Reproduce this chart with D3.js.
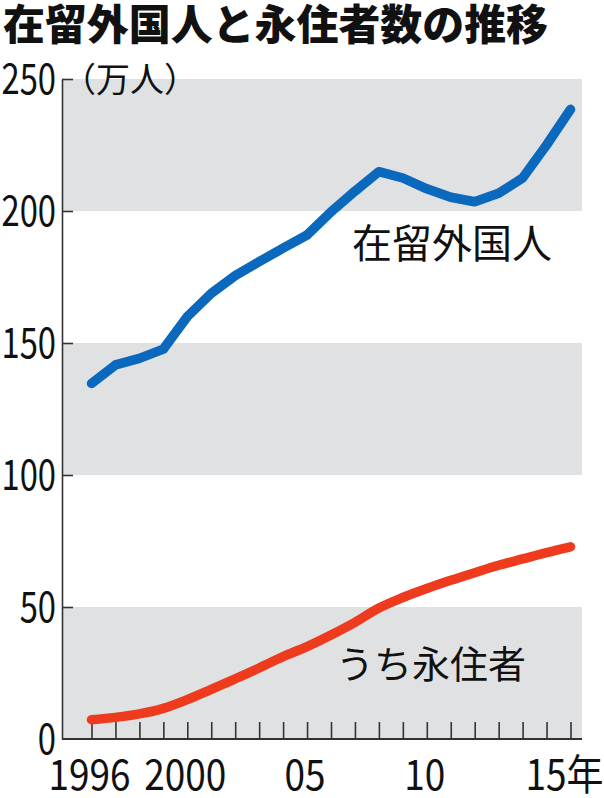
<!DOCTYPE html>
<html>
<head>
<meta charset="utf-8">
<script src="https://cdn.jsdelivr.net/npm/d3@7"></script>
<style>
  html, body { margin: 0; padding: 0; background: #fff; }
  svg { display: block; }
  text { font-family: "Noto Sans CJK JP", "Noto Sans", sans-serif; fill: #111; }
</style>
</head>
<body>
<svg id="chart" width="604" height="798"></svg>
<script>
// ---- data ----
const years = [1996,1997,1998,1999,2000,2001,2002,2003,2004,2005,2006,2007,2008,2009,2010,2011,2012,2013,2014,2015,2016];
const foreigners = [134.7,141.7,144.2,147.7,160.0,168.8,175.5,180.8,185.9,190.9,199.7,207.5,214.9,212.5,208.4,205.2,203.5,206.7,212.5,225.0,238.5];
const permanent  = [7.3,8.2,9.5,11.6,14.9,18.8,22.8,26.9,31.2,35.0,39.4,44.2,49.6,53.6,57.0,60.1,63.0,65.8,68.2,70.6,72.8];
const yTicks = [0,50,100,150,200,250];
const bandRanges = [[200,250],[100,150],[0,50]];
const xLabelYears = [1996,2000,2005,2010,2015];
const xLabelTexts = ["1996","2000","05","10","15年"];
const titleText = "在留外国人と永住者数の推移";
const unitText = "（万人）";
const seriesNames = ["在留外国人","うち永住者"];

// ---- layout ----
const svg = d3.select("#chart");
const axisX0 = 62, axisX1 = 582, axisY0 = 739, axisY1 = 79;
const x = d3.scaleLinear().domain([1996,2016]).range([91.5,570.5]);
const y = d3.scaleLinear().domain([0,250]).range([axisY0, axisY1]);

// bands
svg.append("g").selectAll("rect").data(bandRanges).join("rect")
  .attr("x", axisX0).attr("width", axisX1 - axisX0)
  .attr("y", d => y(d[1])).attr("height", d => y(d[0]) - y(d[1]))
  .attr("fill", "#dfe1e3");

// y axis (ticks inward)
const yAxis = svg.append("g").attr("transform", `translate(${axisX0},0)`)
  .call(d3.axisLeft(y).tickValues(yTicks).tickSize(-11).tickPadding(6).tickSizeOuter(0));
yAxis.select(".domain").attr("stroke", "#333").attr("stroke-width", 1.6);
yAxis.selectAll(".tick line").attr("stroke", "#333").attr("stroke-width", 1.6);
yAxis.selectAll(".tick text")
  .attr("x", null).attr("dy", null)
  .attr("transform", "translate(-6,14) scale(0.78,1)")
  .attr("text-anchor", "end")
  .style("font-size", "42px").style("fill", "#111");
yAxis.selectAll(".tick").filter(d => d === 0).select("line").remove();

// x axis (ticks inward)
const xAxis = svg.append("g").attr("transform", `translate(0,${axisY0})`)
  .call(d3.axisBottom(x).tickValues(years).tickSize(-17).tickFormat("").tickSizeOuter(0));
xAxis.select(".domain").attr("d", `M${axisX0},0H${axisX1}`).attr("stroke", "#333").attr("stroke-width", 1.8);
xAxis.selectAll(".tick line").attr("stroke", "#333").attr("stroke-width", 1.6);

// x labels
svg.append("g").selectAll("text").data(xLabelYears).join("text")
  .attr("transform", (d,i) => i === xLabelYears.length - 1
      ? `translate(${x(d) - 21},790) scale(0.88,1)`
      : `translate(${x(d) - 2},790) scale(0.88,1)`)
  .attr("text-anchor", (d,i) => i === xLabelYears.length - 1 ? "start" : "middle")
  .style("font-size", "42px")
  .text((d,i) => xLabelTexts[i]);

// lines
const lineLin = d3.line().x((d,i) => x(years[i])).y(d => y(d));
const lineSmooth = d3.line().x((d,i) => x(years[i])).y(d => y(d)).curve(d3.curveMonotoneX);

svg.append("path").datum(permanent)
  .attr("d", lineSmooth).attr("fill", "none")
  .attr("stroke", "#ee3a1d").attr("stroke-width", 9.5)
  .attr("stroke-linecap", "round").attr("stroke-linejoin", "round");

svg.append("path").datum(foreigners)
  .attr("d", lineLin).attr("fill", "none")
  .attr("stroke", "#0a68bd").attr("stroke-width", 9.5)
  .attr("stroke-linecap", "round").attr("stroke-linejoin", "round");

// title & unit
svg.append("text").attr("x", 3).attr("y", 40)
  .attr("textLength", 545).attr("lengthAdjust", "spacingAndGlyphs")
  .style("font-size", "42px").style("font-weight", "900")
  .text(titleText);

svg.append("text").attr("x", 62).attr("y", 92)
  .style("font-size", "34px")
  .text(unitText);

// series labels
svg.append("text").attr("x", 352).attr("y", 258)
  .style("font-size", "40px")
  .text(seriesNames[0]);
svg.append("text").attr("x", 336).attr("y", 678)
  .style("font-size", "38px")
  .text(seriesNames[1]);
</script>
</body>
</html>
